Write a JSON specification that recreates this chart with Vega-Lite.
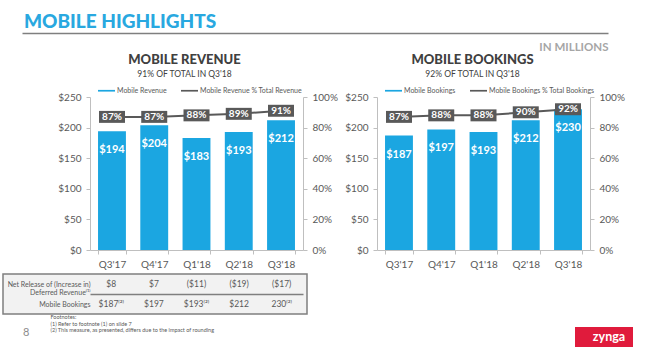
{
  "$schema": "https://vega.github.io/schema/vega-lite/v6.json",
  "padding": 0,
  "autosize": {"type": "pad"},
  "background": "white",
  "bounds": "full",
  "spacing": 4,
  "datasets": {
    "main": [
      {"quarter": "Q3'17", "rev": 194, "revPct": 0.87, "book": 187, "bookPct": 0.87},
      {"quarter": "Q4'17", "rev": 204, "revPct": 0.87, "book": 197, "bookPct": 0.88},
      {"quarter": "Q1'18", "rev": 183, "revPct": 0.88, "book": 193, "bookPct": 0.88},
      {"quarter": "Q2'18", "rev": 193, "revPct": 0.89, "book": 212, "bookPct": 0.90},
      {"quarter": "Q3'18", "rev": 212, "revPct": 0.91, "book": 230, "bookPct": 0.92}
    ],
    "table": [
      {"row": "Net Release of (Increase in) Deferred Revenue⁽¹⁾", "quarter": "Q3'17", "value": "$8"},
      {"row": "Net Release of (Increase in) Deferred Revenue⁽¹⁾", "quarter": "Q4'17", "value": "$7"},
      {"row": "Net Release of (Increase in) Deferred Revenue⁽¹⁾", "quarter": "Q1'18", "value": "($11)"},
      {"row": "Net Release of (Increase in) Deferred Revenue⁽¹⁾", "quarter": "Q2'18", "value": "($19)"},
      {"row": "Net Release of (Increase in) Deferred Revenue⁽¹⁾", "quarter": "Q3'18", "value": "($17)"},
      {"row": "Mobile Bookings", "quarter": "Q3'17", "value": "$187⁽²⁾"},
      {"row": "Mobile Bookings", "quarter": "Q4'17", "value": "$197"},
      {"row": "Mobile Bookings", "quarter": "Q1'18", "value": "$193⁽²⁾"},
      {"row": "Mobile Bookings", "quarter": "Q2'18", "value": "$212"},
      {"row": "Mobile Bookings", "quarter": "Q3'18", "value": "230⁽²⁾"}
    ]
  },
  "vconcat": [
    {"width": 646, "height": 8, "data": {"values": []}, "mark": "point", "encoding": {}},
    {
      "hconcat": [
        {
          "width": 90, "height": 153,
          "title": {"text": "MOBILE HIGHLIGHTS", "anchor": "start", "frame": "group", "dx": 24, "offset": 1.5, "fontSize": 19, "fontWeight": 900, "color": "#29a8e0"},
          "data": {"values": []},
          "mark": {"type": "point", "opacity": 0},
          "encoding": {
            "x": {"datum": 1, "type": "quantitative", "scale": {"domain": [0, 1], "range": [22, 608]},
              "axis": {"orient": "top", "offset": 64, "domain": true, "domainColor": "#7f7f7f", "domainWidth": 1.5, "ticks": false, "labels": false, "grid": false,
                "title": "IN MILLIONS", "titleAnchor": "end", "titleAlign": "right", "titleY": 14, "titleBaseline": "middle", "titleFontSize": 11.5, "titleFontWeight": "bold", "titleColor": "#a6a6a6", "titlePadding": 0}}
          }
        },
        {
          "width": 213, "height": 153,
          "data": {"name": "main"},
          "title": {"text": "MOBILE REVENUE", "subtitle": "91% OF TOTAL IN Q3'18", "anchor": "middle", "dx": -12, "fontSize": 13, "fontWeight": 900, "color": "#404040", "subtitleFontSize": 8.5, "subtitleColor": "#404040", "subtitlePadding": 3, "offset": 4},
          "encoding": {
            "x": {"field": "quarter", "type": "nominal", "sort": null, "scale": {"paddingInner": 0.34, "paddingOuter": 0.19}, "axis": {"title": null, "labelAngle": 0, "tickBand": "extent"}}
          },
          "layer": [
            {
              "encoding": {"y": {"field": "rev", "type": "quantitative", "scale": {"domain": [0, 250], "nice": false}, "axis": {"title": null, "orient": "left", "values": [0, 50, 100, 150, 200, 250], "format": "$.0f"}}},
              "layer": [
                {
                  "mark": {"type": "bar"},
                  "encoding": {
                    "color": {"datum": "Mobile Revenue", "type": "nominal",
                      "scale": {"domain": ["Mobile Revenue", "Mobile Revenue % Total Revenue"], "range": ["#1ba6e1", "#595959"]},
                      "legend": {"orient": "none", "legendX": 8, "legendY": -15, "direction": "horizontal", "title": null, "labelFontSize": 7, "labelColor": "#595959", "symbolType": "M-1,-0.1H1V0.1H-1Z", "symbolSize": 289, "columnPadding": 14, "labelOffset": 2, "symbolStrokeWidth": 0, "symbolOpacity": 1}
                    }
                  }
                },
                {
                  "mark": {"type": "text", "color": "white", "fontWeight": "bold", "fontSize": 11, "baseline": "middle", "dy": 19},
                  "encoding": {"text": {"field": "rev", "type": "quantitative", "format": "$.0f"}}
                }
              ]
            },
            {
              "encoding": {"y": {"field": "revPct", "type": "quantitative", "scale": {"domain": [0, 1], "nice": false}, "axis": {"title": null, "orient": "right", "values": [0, 0.2, 0.4, 0.6, 0.8, 1], "format": ".0%"}}},
              "layer": [
                {"mark": {"type": "line", "strokeWidth": 2}, "encoding": {"color": {"datum": "Mobile Revenue % Total Revenue", "type": "nominal"}}},
                {"mark": {"type": "point", "shape": "M-1,-0.46H1V0.46H-1Z", "size": 676, "filled": true, "color": "#595959", "opacity": 1}, "encoding": {}},
                {"mark": {"type": "text", "color": "white", "fontWeight": "bold", "fontSize": 10, "baseline": "middle"}, "encoding": {"text": {"field": "revPct", "type": "quantitative", "format": ".0%"}}}
              ]
            }
          ],
          "resolve": {"scale": {"y": "independent"}}
        },
        {"width": 74, "height": 153, "data": {"values": []}, "mark": "point", "encoding": {}},
        {
          "width": 213, "height": 153,
          "data": {"name": "main"},
          "title": {"text": "MOBILE BOOKINGS", "subtitle": "92% OF TOTAL IN Q3'18", "anchor": "middle", "dx": -11, "fontSize": 13, "fontWeight": 900, "color": "#404040", "subtitleFontSize": 8.5, "subtitleColor": "#404040", "subtitlePadding": 3, "offset": 4},
          "encoding": {
            "x": {"field": "quarter", "type": "nominal", "sort": null, "scale": {"paddingInner": 0.34, "paddingOuter": 0.19}, "axis": {"title": null, "labelAngle": 0, "tickBand": "extent"}}
          },
          "layer": [
            {
              "encoding": {"y": {"field": "book", "type": "quantitative", "scale": {"domain": [0, 250], "nice": false}, "axis": {"title": null, "orient": "left", "values": [0, 50, 100, 150, 200, 250], "format": "$.0f"}}},
              "layer": [
                {
                  "mark": {"type": "bar"},
                  "encoding": {
                    "color": {"datum": "Mobile Bookings", "type": "nominal",
                      "scale": {"domain": ["Mobile Bookings", "Mobile Bookings % Total Bookings"], "range": ["#1ba6e1", "#595959"]},
                      "legend": {"orient": "none", "legendX": 8, "legendY": -15, "direction": "horizontal", "title": null, "labelFontSize": 7, "labelColor": "#595959", "symbolType": "M-1,-0.1H1V0.1H-1Z", "symbolSize": 289, "columnPadding": 14, "labelOffset": 2, "symbolStrokeWidth": 0, "symbolOpacity": 1}
                    }
                  }
                },
                {
                  "mark": {"type": "text", "color": "white", "fontWeight": "bold", "fontSize": 11, "baseline": "middle", "dy": 19},
                  "encoding": {"text": {"field": "book", "type": "quantitative", "format": "$.0f"}}
                }
              ]
            },
            {
              "encoding": {"y": {"field": "bookPct", "type": "quantitative", "scale": {"domain": [0, 1], "nice": false}, "axis": {"title": null, "orient": "right", "values": [0, 0.2, 0.4, 0.6, 0.8, 1], "format": ".0%"}}},
              "layer": [
                {"mark": {"type": "line", "strokeWidth": 2}, "encoding": {"color": {"datum": "Mobile Bookings % Total Bookings", "type": "nominal"}}},
                {"mark": {"type": "point", "shape": "M-1,-0.46H1V0.46H-1Z", "size": 676, "filled": true, "color": "#595959", "opacity": 1}, "encoding": {}},
                {"mark": {"type": "text", "color": "white", "fontWeight": "bold", "fontSize": 10, "baseline": "middle"}, "encoding": {"text": {"field": "bookPct", "type": "quantitative", "format": ".0%"}}}
              ]
            }
          ],
          "resolve": {"scale": {"y": "independent"}}
        }
      ],
      "bounds": "flush", "spacing": 0,
      "resolve": {"scale": {"color": "independent"}, "legend": {"color": "independent"}}
    },
    {
      "hconcat": [
        {"width": 3, "height": 40, "data": {"values": []}, "mark": "point", "encoding": {}},
        {
          "width": 304, "height": 40,
          "view": {"fill": "#f2f2f2", "stroke": "#7f7f7f", "strokeWidth": 1.5},
          "title": {"text": "8", "orient": "bottom", "anchor": "start", "frame": "group", "dx": 20, "offset": -6.5, "fontSize": 11, "fontWeight": "normal", "color": "#8c8c8c"},
          "data": {"name": "table"},
          "mark": {"type": "text", "fontSize": 8.5, "color": "#595959", "baseline": "middle"},
          "encoding": {
            "x": {"field": "quarter", "type": "nominal", "sort": null, "scale": {"range": [87, 300], "paddingInner": 0.34, "paddingOuter": 0.19},
              "axis": {"orient": "top", "offset": -20, "title": null, "domain": true, "domainColor": "#7f7f7f", "domainWidth": 1.5, "ticks": false, "labels": false, "grid": false}},
            "y": {"field": "row", "type": "nominal", "sort": null, "scale": {"paddingInner": 0, "paddingOuter": 0},
              "axis": {"domain": false, "ticks": false, "labelAlign": "right", "labelPadding": -87, "labelFontSize": 7, "labelColor": "#595959", "labelLineHeight": 8, "labelLimit": 200,
                "labelExpr": "indexof(datum.label, 'Net') == 0 ? ['Net Release of (Increase in)', 'Deferred Revenue⁽¹⁾'] : datum.label",
                "title": ["Footnotes:", "(1)     Refer to footnote (1) on slide 7", "(2)     This measure, as presented, differs due to the impact of rounding"],
                "titleAngle": 0, "titleX": 47, "titleY": 40.5, "titleAlign": "left", "titleBaseline": "top", "titleFontSize": 5.5, "titleLineHeight": 6.5, "titleFontWeight": "normal", "titleColor": "#595959", "titleLimit": 400}},
            "text": {"field": "value"}
          }
        },
        {"width": 268, "height": 40, "data": {"values": []}, "mark": "point", "encoding": {}},
        {
          "vconcat": [
            {"width": 58, "height": 53, "data": {"values": []}, "mark": "point", "encoding": {}},
            {
              "width": 58, "height": 20,
              "view": {"fill": "#e01b3c", "stroke": null},
              "data": {"values": [{"t": "zynga"}]},
              "mark": {"type": "text", "fontSize": 12.5, "fontWeight": "bold", "color": "white", "baseline": "middle", "dx": 5},
              "encoding": {"text": {"field": "t"}}
            }
          ],
          "bounds": "flush", "spacing": 0
        }
      ],
      "bounds": "flush", "spacing": 0
    }
  ],
  "config": {
    "font": "Lato",
    "view": {"stroke": null},
    "concat": {"spacing": 0},
    "axis": {"labelColor": "#595959", "labelFontSize": 10, "domainColor": "#bfbfbf", "tickColor": "#bfbfbf", "grid": false, "tickSize": 4, "labelPadding": 5}
  }
}
